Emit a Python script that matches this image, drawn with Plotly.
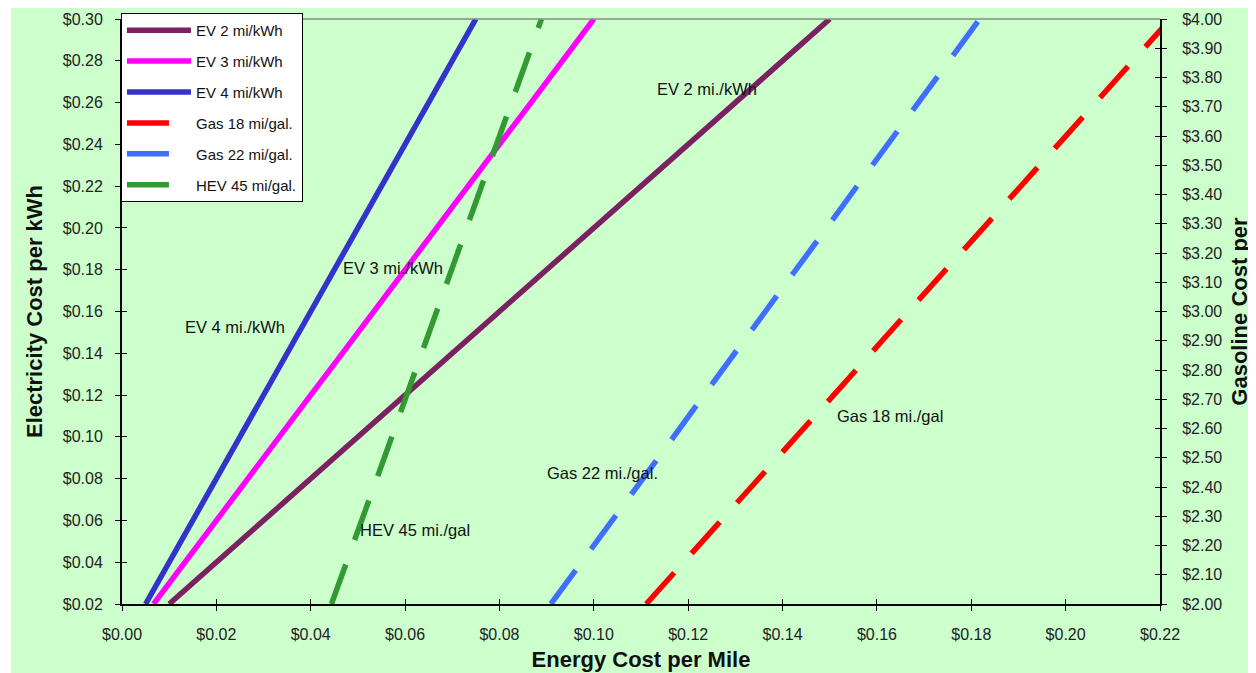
import plotly.graph_objects as go

# ---- data ----
elec_price = [0.02, 0.04, 0.06, 0.08, 0.10, 0.12, 0.14, 0.16, 0.18, 0.20, 0.22, 0.24, 0.26, 0.28, 0.30]
ev2_cost = [0.010, 0.020, 0.030, 0.040, 0.050, 0.060, 0.070, 0.080, 0.090, 0.100, 0.110, 0.120, 0.130, 0.140, 0.150]
ev3_cost = [0.0067, 0.0133, 0.0200, 0.0267, 0.0333, 0.0400, 0.0467, 0.0533, 0.0600, 0.0667, 0.0733, 0.0800, 0.0867, 0.0933, 0.1000]
ev4_cost = [0.0050, 0.0100, 0.0150, 0.0200, 0.0250, 0.0300, 0.0350, 0.0400, 0.0450, 0.0500, 0.0550, 0.0600, 0.0650, 0.0700, 0.0750]

gas_price = [2.00, 2.10, 2.20, 2.30, 2.40, 2.50, 2.60, 2.70, 2.80, 2.90, 3.00,
             3.10, 3.20, 3.30, 3.40, 3.50, 3.60, 3.70, 3.80, 3.90, 4.00]
gas18_cost = [0.1111, 0.1167, 0.1222, 0.1278, 0.1333, 0.1389, 0.1444, 0.1500, 0.1556, 0.1611, 0.1667,
              0.1722, 0.1778, 0.1833, 0.1889, 0.1944, 0.2000, 0.2056, 0.2111, 0.2167, 0.2222]
gas22_cost = [0.0909, 0.0955, 0.1000, 0.1045, 0.1091, 0.1136, 0.1182, 0.1227, 0.1273, 0.1318, 0.1364,
              0.1409, 0.1455, 0.1500, 0.1545, 0.1591, 0.1636, 0.1682, 0.1727, 0.1773, 0.1818]
hev45_cost = [0.0444, 0.0467, 0.0489, 0.0511, 0.0533, 0.0556, 0.0578, 0.0600, 0.0622, 0.0644, 0.0667,
              0.0689, 0.0711, 0.0733, 0.0756, 0.0778, 0.0800, 0.0822, 0.0844, 0.0867, 0.0889]

series_names = ["EV 2 mi/kWh", "EV 3 mi/kWh", "EV 4 mi/kWh", "Gas 18 mi/gal.", "Gas 22 mi/gal.", "HEV 45 mi/gal."]
series_colors = ["#7b2161", "#ff00ff", "#3333cc", "#ff0000", "#3f6fff", "#339933"]

label_text = ["EV 2 mi./kWh", "EV 3 mi./kWh", "EV 4 mi./kWh", "HEV 45 mi./gal", "Gas 22 mi./gal.", "Gas 18 mi./gal"]
label_x = [0.124, 0.0574, 0.0240, 0.0621, 0.1019, 0.1628]
label_y = [0.2665, 0.1808, 0.1526, 0.0554, 0.0827, 0.1100]

x_ticks = [0.00, 0.02, 0.04, 0.06, 0.08, 0.10, 0.12, 0.14, 0.16, 0.18, 0.20, 0.22]

FONT = "Arial, 'Liberation Sans', sans-serif"
GREEN = "#ccffcc"
DASH = "42px,26px"

fig = go.Figure()

ev_sets = [ev2_cost, ev3_cost, ev4_cost]
for i, xs in enumerate(ev_sets):
    fig.add_trace(go.Scatter(x=xs, y=elec_price, mode="lines", name=series_names[i],
                             line=dict(color=series_colors[i], width=5.5),
                             legendgroup=f"g{i}", xaxis="x", yaxis="y"))
gas_sets = [gas18_cost, gas22_cost, hev45_cost]
for j, xs in enumerate(gas_sets):
    i = j + 3
    fig.add_trace(go.Scatter(x=xs, y=gas_price, mode="lines", name=series_names[i],
                             line=dict(color=series_colors[i], width=5.5, dash=DASH),
                             legendgroup=f"g{i}", xaxis="x", yaxis="y2"))

# dummy traces for inside-tick overlay axes (cross ticks)
fig.add_trace(go.Scatter(x=[None], y=[None], xaxis="x2", yaxis="y3", showlegend=False, hoverinfo="skip"))
fig.add_trace(go.Scatter(x=[None], y=[None], xaxis="x2", yaxis="y4", showlegend=False, hoverinfo="skip"))

for t, xx, yy in zip(label_text, label_x, label_y):
    fig.add_annotation(x=xx, y=yy, xref="x", yref="y", text=t, showarrow=False,
                       font=dict(family=FONT, size=16.5, color="#111111"))

tickfont = dict(family=FONT, size=16, color="#222222")
titlefont = dict(family=FONT, size=22, color="#111111", weight="bold")

fig.update_layout(
    width=1248, height=665,
    margin=dict(l=114, r=96, t=11, b=69, autoexpand=False),
    paper_bgcolor="white",
    plot_bgcolor=GREEN,
    showlegend=True,
    legend=dict(x=-0.001, y=1.0103, xanchor="left", yanchor="top",
                bgcolor="white", bordercolor="black", borderwidth=1,
                font=dict(family=FONT, size=15, color="#111111"),
                itemwidth=64, tracegroupgap=8.4, traceorder="grouped"),
    xaxis=dict(range=[0, 0.22], tickvals=x_ticks, tickformat="$.2f",
               showgrid=False, zeroline=False, showline=True, linecolor="black", linewidth=1.5,
               ticks="outside", ticklen=5, tickcolor="black", tickwidth=1,
               ticklabelstandoff=10, tickfont=tickfont,
               title=dict(text="Energy Cost per Mile", font=titlefont, standoff=10)),
    xaxis2=dict(range=[0, 0.22], tickvals=x_ticks, overlaying="x", showticklabels=False,
                showgrid=False, zeroline=False, ticks="inside", ticklen=5, tickcolor="black", tickwidth=1,
                side="bottom"),
    yaxis=dict(range=[0.02, 0.30], dtick=0.02, tick0=0.02, tickformat="$.2f",
               showgrid=False, zeroline=False, showline=True, linecolor="black", linewidth=2,
               ticks="outside", ticklen=5, tickcolor="black", tickwidth=1,
               ticklabelstandoff=9, tickfont=tickfont,
               title=dict(text="Electricity Cost per kWh", font=titlefont, standoff=14)),
    yaxis2=dict(range=[2.0, 4.0], dtick=0.1, tick0=2.0, tickformat="$.2f", overlaying="y", side="right",
                showgrid=False, zeroline=False, showline=True, linecolor="black", linewidth=2,
                ticks="outside", ticklen=5, tickcolor="black", tickwidth=1,
                ticklabelstandoff=12, tickfont=tickfont,
                title=dict(text="Gasoline Cost per", font=titlefont, standoff=10)),
    yaxis3=dict(range=[0.02, 0.30], dtick=0.02, tick0=0.02, overlaying="y", side="left",
                showticklabels=False, showgrid=False, zeroline=False,
                ticks="inside", ticklen=5, tickcolor="black", tickwidth=1),
    yaxis4=dict(range=[2.0, 4.0], dtick=0.1, tick0=2.0, overlaying="y", side="right",
                showticklabels=False, showgrid=False, zeroline=False,
                ticks="inside", ticklen=5, tickcolor="black", tickwidth=1),
)

# green chart area and top border
fig.add_shape(type="rect", xref="paper", yref="paper", x0=-0.107, x1=1.2, y0=-0.2, y1=1.0205,
              fillcolor=GREEN, line=dict(width=0), layer="below")
fig.add_shape(type="line", xref="paper", yref="paper", x0=0, x1=1, y0=1, y1=1,
              line=dict(color="#888888", width=1.5))

fig.write_html("out.html")
